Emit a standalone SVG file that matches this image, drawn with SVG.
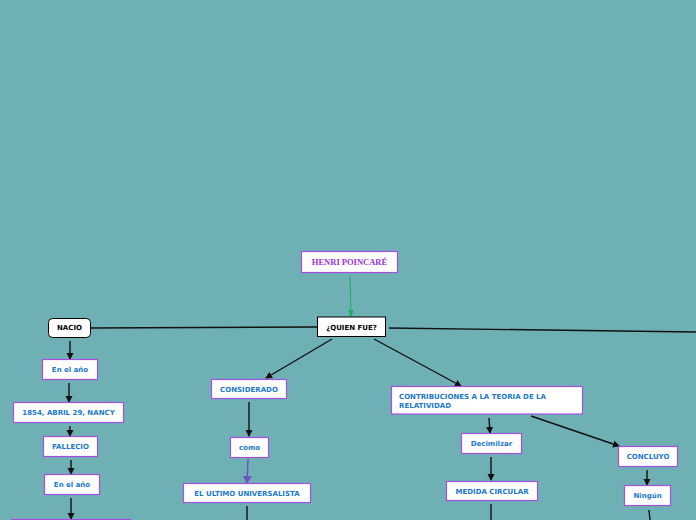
<svg xmlns="http://www.w3.org/2000/svg" width="696" height="520" viewBox="0 0 696 520">
<style>
.n{fill:#fff;stroke:#a650e0;stroke-width:1.2}
.k{fill:#fff;stroke:#000;stroke-width:1}
.t{font-family:"DejaVu Sans",Verdana,sans-serif;font-weight:bold;font-size:7px;fill:#1c78cc;text-anchor:middle}
.ts{font-family:"DejaVu Sans",Verdana,sans-serif;font-weight:bold;font-size:7px;fill:#1c78cc;text-anchor:start}
.tk{font-family:"DejaVu Sans",Verdana,sans-serif;font-weight:bold;font-size:7px;fill:#000;text-anchor:middle}
.c{stroke:#111;stroke-width:1.4;fill:none}
</style>
<defs>
<marker id="a" markerWidth="8" markerHeight="8" refX="6" refY="4" orient="auto" markerUnits="userSpaceOnUse"><path d="M0,0.5 L7,4 L0,7.5 z" fill="#111"/></marker>
<marker id="ag" markerWidth="8" markerHeight="8" refX="6" refY="4" orient="auto" markerUnits="userSpaceOnUse"><path d="M0,1 L7,4 L0,7 z" fill="#22aa66"/></marker>
<marker id="ap" markerWidth="10" markerHeight="10" refX="7" refY="5" orient="auto" markerUnits="userSpaceOnUse"><path d="M0,0.5 L8,5 L0,9.5 z" fill="#6a55c0"/></marker>
</defs>
<rect width="696" height="520" fill="#6eb0b4"/>
<g id="connectors">
<line x1="350" y1="276" x2="351" y2="316" stroke="#22aa66" stroke-width="1" marker-end="url(#ag)"/>
<line class="c" x1="90" y1="328" x2="317" y2="327"/>
<line class="c" x1="389" y1="328" x2="696" y2="332"/>
<line class="c" x1="332" y1="339" x2="266" y2="378" marker-end="url(#a)"/>
<line class="c" x1="374" y1="339" x2="461" y2="386" marker-end="url(#a)"/>
<line class="c" x1="249" y1="402" x2="249" y2="436" marker-end="url(#a)"/>
<line x1="248" y1="459" x2="247" y2="483" stroke="#6a55c0" stroke-width="1.4" marker-end="url(#ap)"/>
<line class="c" x1="247" y1="506" x2="247" y2="520"/>
<line class="c" x1="489" y1="418" x2="490" y2="433" marker-end="url(#a)"/>
<line class="c" x1="491" y1="457" x2="491" y2="480" marker-end="url(#a)"/>
<line class="c" x1="491" y1="504" x2="491" y2="520"/>
<line class="c" x1="531" y1="416" x2="619" y2="446" marker-end="url(#a)"/>
<line class="c" x1="647" y1="470" x2="647" y2="485" marker-end="url(#a)"/>
<line class="c" x1="649" y1="510" x2="650" y2="520"/>
<line class="c" x1="70" y1="341" x2="70" y2="359" marker-end="url(#a)"/>
<line class="c" x1="69" y1="383" x2="69" y2="402" marker-end="url(#a)"/>
<line class="c" x1="70" y1="426" x2="70" y2="436" marker-end="url(#a)"/>
<line class="c" x1="71" y1="460" x2="71" y2="474" marker-end="url(#a)"/>
<line class="c" x1="71" y1="498" x2="71" y2="519" marker-end="url(#a)"/>
</g>
<g id="henri"><rect class="n" x="301.5" y="251.5" width="96" height="21"/><text x="349.5" y="265" font-family="'Liberation Serif',serif" font-weight="bold" font-size="8.5" fill="#9a33d6" text-anchor="middle">HENRI POINCARÉ</text></g>
<g id="quien"><rect class="k" x="317.5" y="317" width="68" height="19.5"/><text class="tk" x="351.5" y="329.5">¿QUIEN FUE?</text></g>
<g id="nacio"><rect class="k" x="48.5" y="318.5" width="42" height="19" rx="4"/><text class="tk" x="69.5" y="330">NACIO</text></g>
<g id="enelano1"><rect class="n" x="42.5" y="359.5" width="55" height="20"/><text class="t" x="70" y="372">En el año</text></g>
<g id="fecha"><rect class="n" x="13.5" y="402.5" width="110" height="20"/><text class="t" x="68.5" y="415">1854, ABRIL 29, NANCY</text></g>
<g id="fallecio"><rect class="n" x="43.5" y="436.5" width="54" height="20"/><text class="t" x="70.5" y="449">FALLECIO</text></g>
<g id="enelano2"><rect class="n" x="44.5" y="474.5" width="55" height="20"/><text class="t" x="72" y="487">En el año</text></g>
<g id="bottomleft"><rect class="n" x="11.5" y="519.5" width="119" height="20"/></g>
<g id="considerado"><rect class="n" x="211.5" y="379.5" width="75" height="19"/><text class="t" x="249" y="392">CONSIDERADO</text></g>
<g id="como"><rect class="n" x="230.5" y="437.5" width="38" height="20"/><text class="t" x="249.5" y="450">como</text></g>
<g id="universalista"><rect class="n" x="183.5" y="483.5" width="127" height="19"/><text class="t" x="247" y="496">EL ULTIMO UNIVERSALISTA</text></g>
<g id="contribuciones"><rect class="n" x="391.5" y="386.5" width="191" height="27.5"/><text class="ts" x="399" y="399">CONTRIBUCIONES A LA TEORIA DE LA</text><text class="ts" x="399" y="407.5">RELATIVIDAD</text></g>
<g id="decimilzar"><rect class="n" x="461.5" y="433.5" width="60" height="20"/><text class="t" x="491.5" y="446">Decimilzar</text></g>
<g id="medida"><rect class="n" x="446.5" y="481.5" width="91" height="19"/><text class="t" x="492" y="494">MEDIDA CIRCULAR</text></g>
<g id="concluyo"><rect class="n" x="618.5" y="446.5" width="59" height="20"/><text class="t" x="648" y="459">CONCLUYO</text></g>
<g id="ningun"><rect class="n" x="624.5" y="485.5" width="46" height="20"/><text class="t" x="647.5" y="498">Ningún</text></g>
</svg>
